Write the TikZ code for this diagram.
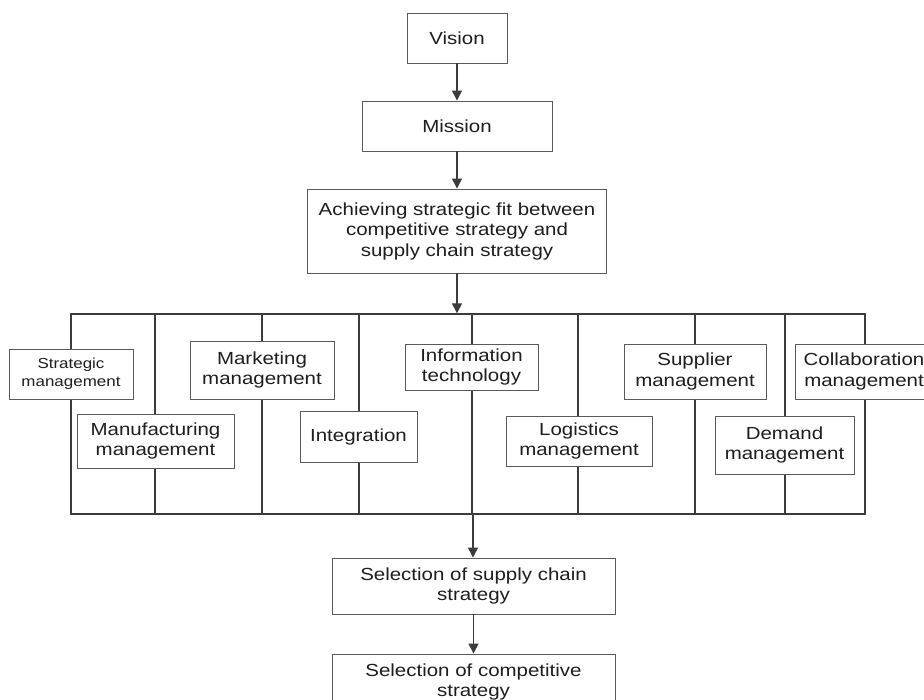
\documentclass[tikz,border=0pt]{standalone}
\usepackage{fontspec}
\setmainfont[FakeStretch=1.17]{Liberation Sans}
\usetikzlibrary{arrows.meta}
\definecolor{ink}{HTML}{1E1E1E}
\definecolor{edge}{HTML}{5A5A5A}
\definecolor{wire}{HTML}{3C3C3C}
\tikzset{
  box/.style={draw=edge, line width=0.9pt, fill=white, text=ink, align=center,
    inner sep=0pt, font=\fontsize{17.5}{20.5}\selectfont},
  smallbox/.style={box, font=\fontsize{14.5}{17.5}\selectfont},
  frame/.style={draw=wire, line width=1.4pt, inner sep=0pt},
  pillar/.style={draw=wire, line width=1.3pt},
  arr/.style={draw=wire, line width=1.4pt, -{Triangle[length=10pt,width=10pt]}}
}
\begin{document}
\begin{tikzpicture}[x=1pt, y=-1pt]
\clip (0,0) rectangle (924,700);
\fill[white] (0,0) rectangle (924,700);

% top chain
\node[box, minimum width=100, minimum height=50] (vision) at (457,38) {Vision};
\node[box, minimum width=190, minimum height=50] (mission) at (457,126) {Mission};
\node[box, minimum width=299, minimum height=84] (fit) at (457,231)
  {Achieving strategic fit between\\competitive strategy and\\supply chain strategy};

% frame holding the functional areas
\node[frame, minimum width=794, minimum height=200] (frame) at (468,414) {};
\foreach \px [count=\i] in {155,262,359,472,578,695,785} {
  \coordinate (p\i) at (\px,414);
  \draw[pillar] (p\i |- frame.north) -- (p\i |- frame.south);
}

% functional areas
\node[smallbox, minimum width=124, minimum height=50] (strat) at (71,374) {Strategic\\management};
\node[box, minimum width=157, minimum height=54] (manuf) at (155.5,441) {Manufacturing\\management};
\node[box, minimum width=144, minimum height=58] (market) at (262,370) {Marketing\\management};
\node[box, minimum width=117, minimum height=51] (integ) at (358.5,436.5) {Integration};
\node[box, minimum width=133, minimum height=46] (info) at (471.5,367) {Information\\technology};
\node[box, minimum width=146, minimum height=50] (logis) at (579,441) {Logistics\\management};
\node[box, minimum width=142, minimum height=55] (suppl) at (695,371.5) {Supplier\\management};
\node[box, minimum width=139, minimum height=58] (demand) at (784.5,445) {Demand\\management};
\node[box, minimum width=138, minimum height=55] (collab) at (864,371.5) {Collaboration\\management};

% bottom chain
\node[box, minimum width=283, minimum height=56] (selsc) at (473.5,586) {Selection of supply chain\\strategy};
\node[box, minimum width=283, minimum height=56] (selcomp) at (473.5,682) {Selection of competitive\\strategy};

% connectors
\draw[arr] (vision.south) -- (mission.north);
\draw[arr] (mission.south) -- (fit.north);
\draw[arr] (fit.south) -- (fit.south |- frame.north);
\coordinate (out) at (473,514);
\draw[arr] (out) -- (out |- selsc.north);
\draw[arr] (selsc.south) -- (selcomp.north);
\end{tikzpicture}
\end{document}
